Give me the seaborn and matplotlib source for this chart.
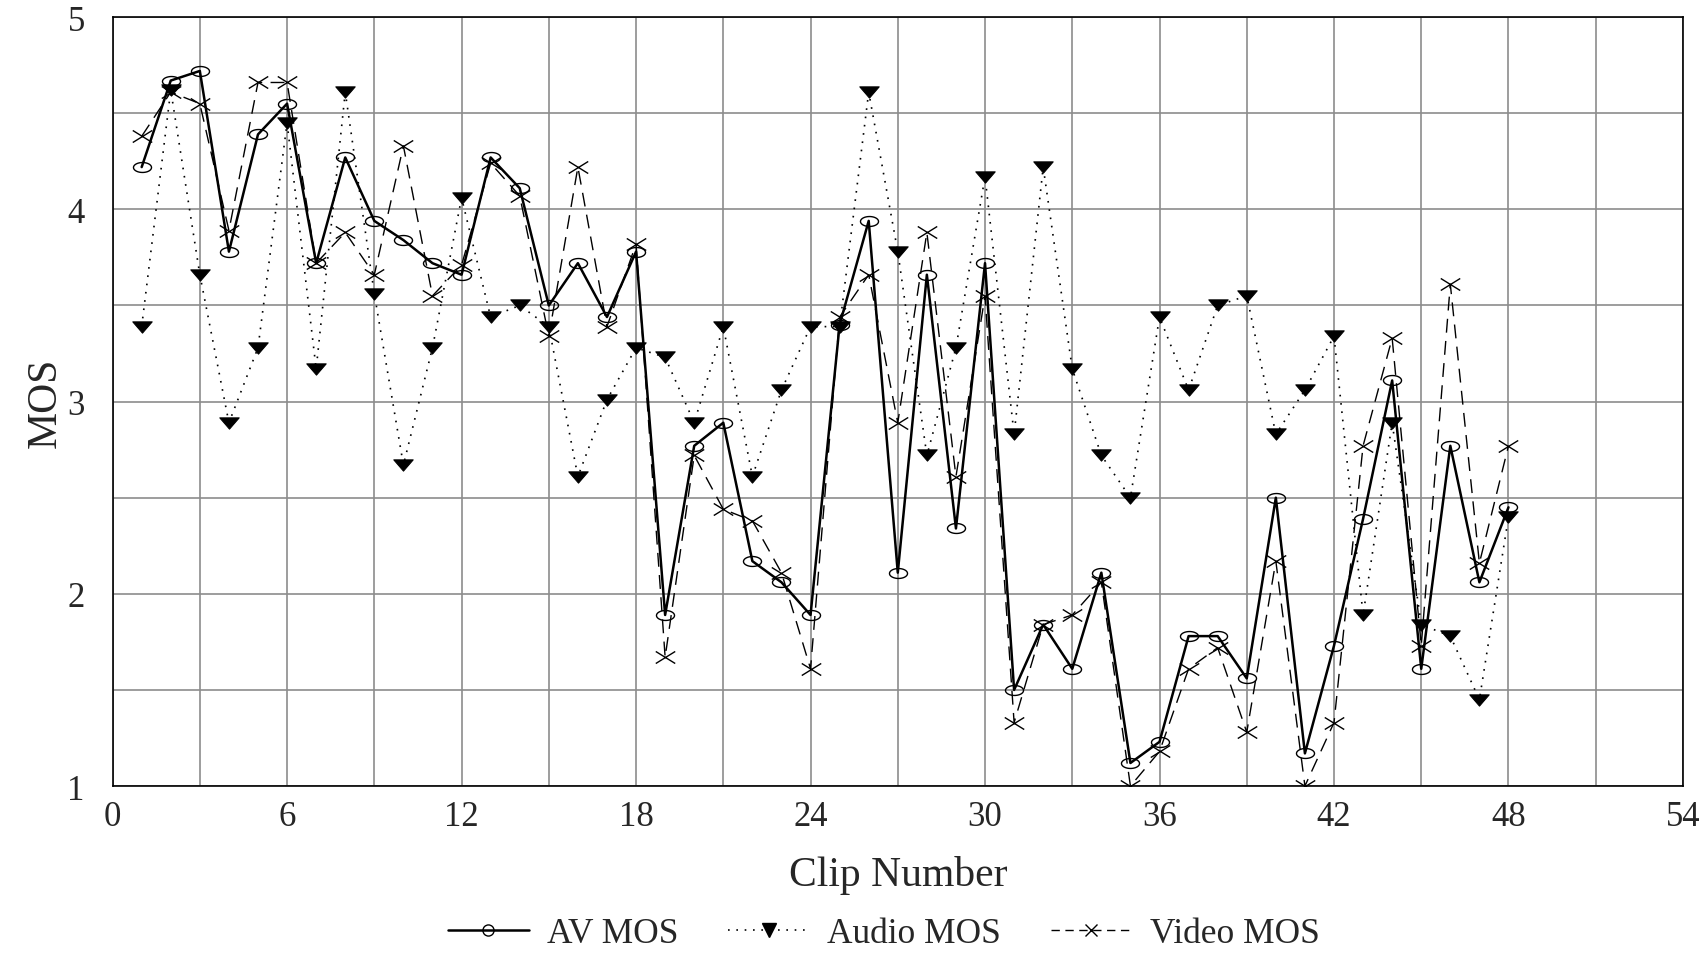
import numpy as np
import pandas as pd
import matplotlib
matplotlib.use("Agg")
import matplotlib.pyplot as plt
import seaborn as sns
from matplotlib.path import Path
from matplotlib.lines import Line2D
from matplotlib.ticker import MultipleLocator

# values, clips 1..48
clips = list(range(1, 49))
av_mos = [4.22, 4.67, 4.72, 3.78, 4.39, 4.55, 3.72, 4.27, 3.94, 3.84,
          3.72, 3.66, 4.27, 4.11, 3.50, 3.72, 3.44, 3.78, 1.89, 2.77,
          2.89, 2.17, 2.06, 1.89, 3.40, 3.94, 2.11, 3.66, 2.34, 3.72,
          1.50, 1.84, 1.61, 2.11, 1.12, 1.23, 1.78, 1.78, 1.56, 2.50,
          1.17, 1.73, 2.39, 3.11, 1.61, 2.77, 2.06, 2.45]
audio_mos = [3.39, 4.62, 3.66, 2.89, 3.28, 4.45, 3.17, 4.61, 3.56, 2.67,
             3.28, 4.06, 3.44, 3.50, 3.39, 2.61, 3.01, 3.28, 3.23, 2.89,
             3.39, 2.61, 3.06, 3.39, 3.39, 4.61, 3.78, 2.72, 3.28, 4.17,
             2.83, 4.22, 3.17, 2.72, 2.50, 3.44, 3.06, 3.50, 3.55, 2.83,
             3.06, 3.34, 1.89, 2.89, 1.84, 1.78, 1.45, 2.40]
video_mos = [4.38, 4.61, 4.55, 3.89, 4.66, 4.66, 3.72, 3.88, 3.66, 4.33,
             3.55, 3.71, 4.24, 4.07, 3.34, 4.22, 3.39, 3.82, 1.67, 2.72,
             2.44, 2.38, 2.11, 1.61, 3.44, 3.66, 2.89, 3.88, 2.61, 3.55,
             1.33, 1.84, 1.89, 2.06, 1.00, 1.18, 1.61, 1.72, 1.28, 2.17,
             1.00, 1.33, 2.77, 3.33, 1.73, 3.61, 2.16, 2.77]

sns.set_style("white")
plt.rcParams["font.family"] = ["Liberation Serif", "DejaVu Serif"]

# flattened marker shapes like the original
t = np.linspace(0, 2 * np.pi, 40)
ellipse = Path(np.column_stack([np.cos(t), 0.55 * np.sin(t)]), closed=True)
tri = Path([(-1, 0.58), (1, 0.58), (0, -0.58), (-1, 0.58)],
           [Path.MOVETO, Path.LINETO, Path.LINETO, Path.CLOSEPOLY])
cross = Path([(-1, -0.62), (1, 0.62), (-1, 0.62), (1, -0.62)],
             [Path.MOVETO, Path.LINETO, Path.MOVETO, Path.LINETO])

fig, ax = plt.subplots(figsize=(17.06, 9.54), dpi=100)
fig.subplots_adjust(left=0.066, right=0.9865, top=0.981, bottom=0.175)

sns.lineplot(x=clips, y=audio_mos, ax=ax, color="black", linestyle=(0, (1, 4)),
             linewidth=1.2, marker=tri, markersize=14, markerfacecolor="black",
             markeredgecolor="black", zorder=3)
sns.lineplot(x=clips, y=video_mos, ax=ax, color="black", linestyle=(0, (10, 6)),
             linewidth=1.0, marker=cross, markersize=14, markerfacecolor="none",
             markeredgecolor="black", markeredgewidth=1.0, zorder=4)
sns.lineplot(x=clips, y=av_mos, ax=ax, color="black", linestyle="-",
             linewidth=1.8, marker=ellipse, markersize=13, markerfacecolor="none",
             markeredgecolor="black", markeredgewidth=1.0, zorder=5)

ax.set_xlim(0, 54)
ax.set_ylim(1, 5)
ax.xaxis.set_major_locator(MultipleLocator(6))
ax.xaxis.set_minor_locator(MultipleLocator(3))
ax.yaxis.set_major_locator(MultipleLocator(1))
ax.yaxis.set_minor_locator(MultipleLocator(0.5))
ax.grid(True, which="both", color="#8c8c8c", linewidth=1.2)
ax.set_axisbelow(True)
ax.tick_params(axis="both", which="both", direction="out", color="#8c8c8c", width=1.2)
ax.tick_params(axis="x", which="major", length=9, pad=1, labelsize=25)
ax.tick_params(axis="x", which="minor", length=6)
ax.tick_params(axis="y", which="both", length=9, pad=11, labelsize=25)
for s in ax.spines.values():
    s.set_color("black")
    s.set_linewidth(1.2)

ax.set_xlabel("Clip Number", fontsize=30, labelpad=16)
ax.set_ylabel("MOS", fontsize=30, labelpad=2)
if ax.get_legend() is not None:
    ax.get_legend().remove()

handles = [
    Line2D([], [], color="black", linestyle="-", linewidth=1.8, marker="o",
           markersize=8, markerfacecolor="none", markeredgewidth=1.0),
    Line2D([], [], color="black", linestyle=(0, (1, 4)), linewidth=1.2, marker="v",
           markersize=10, markerfacecolor="black"),
    Line2D([], [], color="black", linestyle=(0, (6, 4)), linewidth=1.0, marker="x",
           markersize=9, markeredgewidth=1.0),
]
fig.legend(handles, ["AV MOS", "Audio MOS", "Video MOS"], loc="center",
           bbox_to_anchor=(0.518, 0.02), ncol=3, frameon=False, fontsize=25.5,
           handlelength=2.3, handletextpad=0.5, columnspacing=1.4)

fig.savefig("out.png", dpi=100)
